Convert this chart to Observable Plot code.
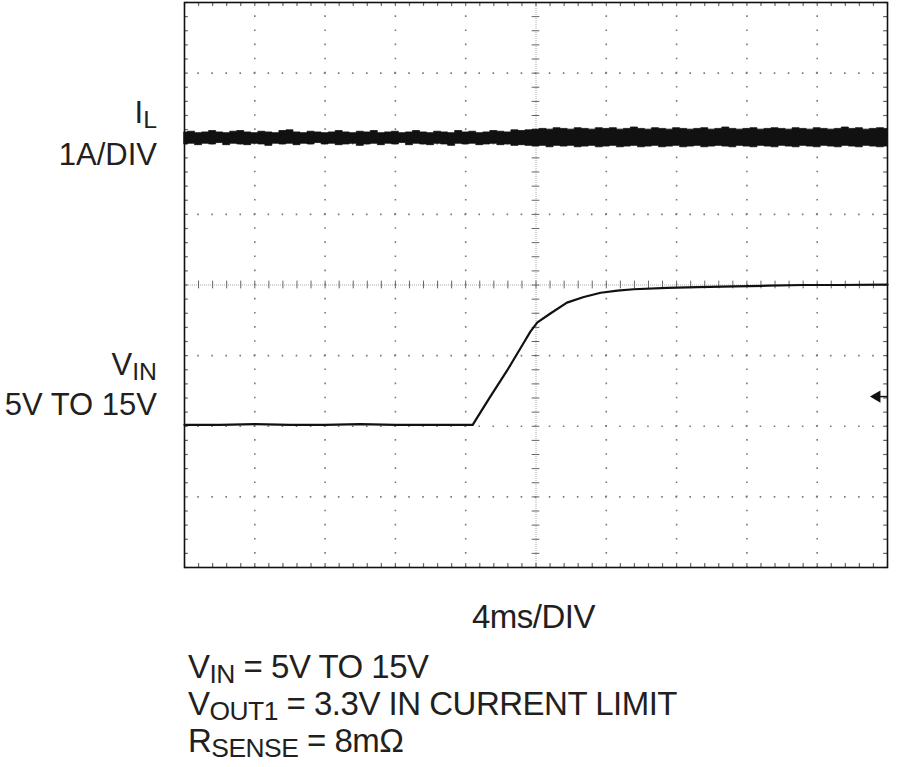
<!DOCTYPE html>
<html>
<head>
<meta charset="utf-8">
<script src="https://cdn.jsdelivr.net/npm/d3@7"></script>
<script src="https://cdn.jsdelivr.net/npm/@observablehq/plot@0.6"></script>
<style>
  html, body { margin: 0; padding: 0; background: #fff; }
  #wrap { position: relative; width: 900px; height: 767px; overflow: hidden; }
  #chart { position: absolute; left: 0; top: 0; }
  .lbl {
    position: absolute;
    font-family: "Liberation Sans", Arial, sans-serif;
    font-size: 31px;
    line-height: 31px;
    color: #231f20;
    white-space: nowrap;
  }
  .cap { font-size: 33px; line-height: 33px; letter-spacing: -0.5px; }
  .right { text-align: right; right: 743px; }
  .sub { font-size: 0.8em; position: relative; top: 0.2em; }
</style>
</head>
<body>
<div id="wrap">
  <div id="chart"></div>
  <div class="lbl right" style="top:97px">I<span class="sub">L</span></div>
  <div class="lbl right" style="top:139px">1A/DIV</div>
  <div class="lbl right" style="top:349px">V<span class="sub">IN</span></div>
  <div class="lbl right" style="top:389px">5V TO 15V</div>
  <div class="lbl cap" style="top:600px; left:472px">4ms/DIV</div>
  <div class="lbl cap" style="top:650px; left:188px">V<span class="sub">IN</span> = 5V TO 15V</div>
  <div class="lbl cap" style="top:687px; left:188px">V<span class="sub">OUT1</span> = 3.3V IN CURRENT LIMIT</div>
  <div class="lbl cap" style="top:724px; left:188px">R<span class="sub">SENSE</span> = 8mΩ</div>
</div>
<script>
// screen is 10 x 8 divisions; x in divisions (4ms/div), y in divisions from centre
const GRID_X = [1, 2, 3, 4, 6, 7, 8, 9];
const GRID_Y = [-3, -2, -1, 1, 2, 3];

// I_L trace: noisy band, read as lower/upper envelope (divisions)
const ilTime = [
  0, 0.1, 0.2, 0.3, 0.4, 0.5, 0.6, 0.7, 0.8, 0.9,
  1, 1.1, 1.2, 1.3, 1.4, 1.5, 1.6, 1.7, 1.8, 1.9,
  2, 2.1, 2.2, 2.3, 2.4, 2.5, 2.6, 2.7, 2.8, 2.9,
  3, 3.1, 3.2, 3.3, 3.4, 3.5, 3.6, 3.7, 3.8, 3.9,
  4, 4.1, 4.2, 4.3, 4.4, 4.5, 4.6, 4.7, 4.8, 4.9,
  5, 5.1, 5.2, 5.3, 5.4, 5.5, 5.6, 5.7, 5.8, 5.9,
  6, 6.1, 6.2, 6.3, 6.4, 6.5, 6.6, 6.7, 6.8, 6.9,
  7, 7.1, 7.2, 7.3, 7.4, 7.5, 7.6, 7.7, 7.8, 7.9,
  8, 8.1, 8.2, 8.3, 8.4, 8.5, 8.6, 8.7, 8.8, 8.9,
  9, 9.1, 9.2, 9.3, 9.4, 9.5, 9.6, 9.7, 9.8, 9.9, 10];
const ilHigh = [
  2.16, 2.17, 2.15, 2.16, 2.18, 2.16, 2.15, 2.17, 2.18, 2.16,
  2.15, 2.17, 2.16, 2.15, 2.18, 2.19, 2.16, 2.15, 2.17, 2.16,
  2.15, 2.16, 2.18, 2.16, 2.15, 2.17, 2.16, 2.18, 2.15, 2.16,
  2.17, 2.15, 2.16, 2.18, 2.16, 2.15, 2.17, 2.16, 2.15, 2.18,
  2.16, 2.17, 2.15, 2.16, 2.18, 2.17, 2.16, 2.19, 2.18, 2.19,
  2.20, 2.21, 2.20, 2.22, 2.21, 2.20, 2.22, 2.21, 2.20, 2.22,
  2.21, 2.22, 2.20, 2.21, 2.23, 2.21, 2.20, 2.22, 2.21, 2.20,
  2.22, 2.21, 2.20, 2.21, 2.22, 2.20, 2.21, 2.23, 2.21, 2.20,
  2.21, 2.22, 2.20, 2.21, 2.22, 2.21, 2.20, 2.22, 2.21, 2.20,
  2.22, 2.21, 2.20, 2.21, 2.23, 2.21, 2.22, 2.20, 2.21, 2.22, 2.21];
const ilLow = [
  1.99, 2.00, 1.98, 2.00, 1.99, 2.01, 1.98, 2.00, 1.99, 1.98,
  2.00, 1.99, 1.97, 2.00, 1.99, 2.00, 1.98, 2.00, 1.99, 2.01,
  1.99, 2.00, 1.98, 1.99, 2.00, 1.97, 1.99, 2.00, 1.98, 2.00,
  1.99, 2.01, 1.98, 2.00, 1.99, 1.98, 2.00, 1.99, 1.97, 2.00,
  1.99, 2.00, 1.98, 1.99, 2.00, 1.98, 1.99, 1.97, 1.98, 1.97,
  1.96, 1.97, 1.95, 1.97, 1.96, 1.97, 1.95, 1.96, 1.97, 1.95,
  1.96, 1.97, 1.95, 1.96, 1.97, 1.95, 1.96, 1.97, 1.95, 1.96,
  1.97, 1.95, 1.96, 1.97, 1.95, 1.96, 1.97, 1.96, 1.95, 1.97,
  1.96, 1.95, 1.97, 1.96, 1.95, 1.97, 1.96, 1.95, 1.97, 1.96,
  1.95, 1.97, 1.96, 1.95, 1.97, 1.96, 1.95, 1.97, 1.96, 1.95, 1.96];

// V_IN trace: 5V -> 15V step (divisions)
const vinTime = [0, 0.5, 1, 1.5, 2, 2.5, 3, 3.5, 4.1, 4.15, 4.35, 4.59, 4.83, 4.92, 5.02, 5.21, 5.44, 5.68, 5.92, 6.16, 6.39, 6.87, 7.3, 7.82, 8.3, 8.8, 9.3, 10];
const vinLevel = [-1.98, -1.98, -1.97, -1.98, -1.98, -1.97, -1.98, -1.98, -1.98, -1.90, -1.58, -1.21, -0.81, -0.66, -0.53, -0.40, -0.25, -0.17, -0.11, -0.08, -0.06, -0.04, -0.03, -0.02, -0.01, 0, 0, 0.005];

// ground/reference marker on right edge
const MARKER_Y = -1.58;

const W = 900, H = 580;
const M = { left: 184, right: 13, top: 2, bottom: 13 };
const stepY = (H - M.top - M.bottom) / 40;
const stepX = (W - M.left - M.right) / 50;

const minorX = d3.range(0, 51).map(i => i / 5);
const minorY = d3.range(0, 41).map(i => -4 + i / 5);

const ilRows = ilTime.map((t, i) => ({ t, hi: ilHigh[i], lo: ilLow[i] }));
const vinRows = vinTime.map((t, i) => ({ t, v: vinLevel[i] }));

const tx = 0.055, ty = 0.055; // minor tick half-length in divisions
const GRID = "#7a7a7a";

const plot = Plot.plot({
  width: W,
  height: H,
  marginLeft: M.left,
  marginRight: M.right,
  marginTop: M.top,
  marginBottom: M.bottom,
  x: { domain: [0, 10], axis: null },
  y: { domain: [-4, 4], axis: null },
  style: { background: "transparent" },
  marks: [
    // dotted graticule
    Plot.ruleX(GRID_X, { stroke: GRID, strokeWidth: 1.6, strokeDasharray: `1.6 ${stepY - 1.6}`, strokeDashoffset: 0.8 }),
    Plot.ruleY(GRID_Y, { stroke: GRID, strokeWidth: 1.6, strokeDasharray: `1.6 ${stepX - 1.6}`, strokeDashoffset: 0.8 }),
    // centre lines with minor ticks
    Plot.ruleX([5], { stroke: "#aaa", strokeWidth: 1, strokeDasharray: "1 1" }),
    Plot.ruleY([0], { stroke: "#aaa", strokeWidth: 1, strokeDasharray: "1 1" }),
    Plot.ruleX(minorX, { y1: () => -ty, y2: () => ty, stroke: "#666", strokeWidth: 1 }),
    Plot.ruleY(minorY, { x1: () => 5 - tx, x2: () => 5 + tx, stroke: "#666", strokeWidth: 1 }),
    // edge ticks
    Plot.ruleX(minorX, { y1: () => 4, y2: () => 4 - ty, stroke: "#666", strokeWidth: 1.2 }),
    Plot.ruleX(minorX, { y1: () => -4, y2: () => -4 + ty, stroke: "#666", strokeWidth: 1.2 }),
    Plot.ruleY(minorY, { x1: () => 0, x2: () => tx, stroke: "#666", strokeWidth: 1.2 }),
    Plot.ruleY(minorY, { x1: () => 10, x2: () => 10 - tx, stroke: "#666", strokeWidth: 1.2 }),
    // traces
    Plot.areaY(ilRows, { x: "t", y1: "lo", y2: "hi", fill: "#111", stroke: "#111", strokeWidth: 0.8, curve: "step" }),
    Plot.line(vinRows, { x: "t", y: "v", stroke: "#111", strokeWidth: 2.2 }),
    // marker
    Plot.ruleY([MARKER_Y], { x1: () => 9.85, x2: () => 10, stroke: "#111", strokeWidth: 1.5 }),
    Plot.dot([MARKER_Y], { x: () => 9.85, y: d => d, symbol: "triangle", r: 4.5, rotate: -90, fill: "#111", stroke: "none" }),
    Plot.frame({ stroke: "#111", strokeWidth: 1.6 })
  ]
});
document.getElementById("chart").append(plot);
</script>
</body>
</html>
